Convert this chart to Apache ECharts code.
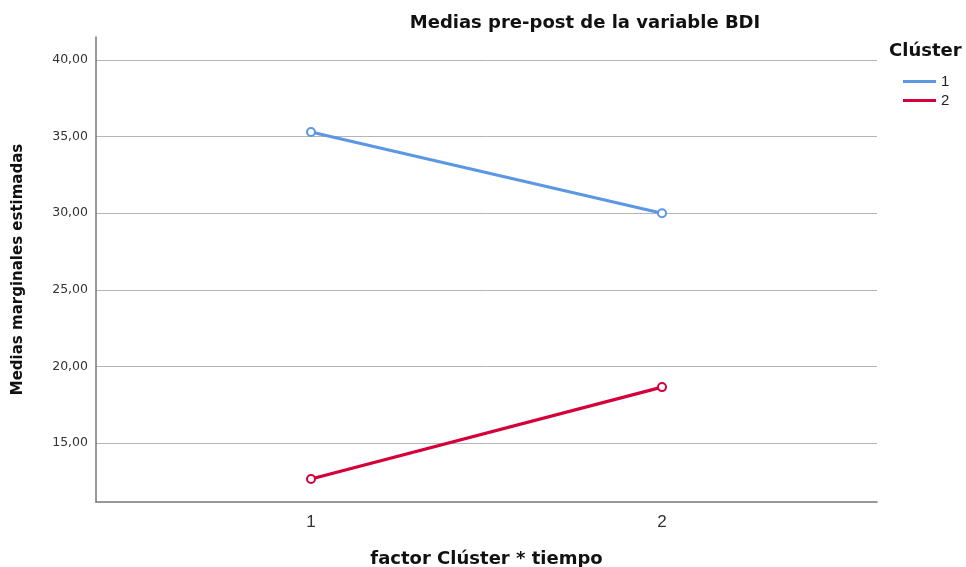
<!DOCTYPE html>
<html><head><meta charset="utf-8">
<script src="https://cdn.jsdelivr.net/npm/echarts@6/dist/echarts.min.js"></script>
<style>html,body{margin:0;padding:0;background:#fff}#c{width:966px;height:567px}</style>
</head><body><div id="c"></div>
<script>
const xCategories = [1, 2];
const cluster1 = [35.3, 30.0];
const cluster2 = [12.65, 18.65];
const yTicks = [15, 20, 25, 30, 35, 40];
const seriesNames = ['1', '2'];

const chart = echarts.init(document.getElementById('c'));
const pts = arr => xCategories.map((x, i) => [x, arr[i]]);
const fmt = v => v.toFixed(2).replace('.', ',');
const boldFont = '"DejaVu Sans", "Liberation Sans", Arial';
chart.setOption({
  animation: false,
  title: {
    text: 'Medias pre-post de la variable BDI',
    left: 580, top: 9, textAlign: 'center',
    textStyle: {fontFamily: boldFont, fontWeight: 'bold', fontSize: 18, color: '#111'}
  },
  legend: {
    left: 903, top: 74, orient: 'vertical', itemWidth: 33, itemHeight: 3, itemGap: 4,
    icon: 'rect', padding: 0,
    textStyle: {fontFamily: 'Liberation Sans, Arial', fontSize: 15, color: '#222'},
    data: seriesNames
  },
  graphic: [{
    type: 'text', left: 889, top: 42,
    style: {text: 'Clúster', font: 'bold 18px "DejaVu Sans", "Liberation Sans", Arial', fill: '#111'}
  }],
  grid: {left: 96, right: 89, top: 37, bottom: 65, outerBoundsMode: 'none', containLabel: false},
  xAxis: {
    type: 'value', min: 0.3875, max: 2.6125,
    name: 'factor Clúster * tiempo', nameLocation: 'middle', nameGap: 48,
    nameTextStyle: {fontFamily: boldFont, fontWeight: 'bold', fontSize: 18, color: '#111'},
    axisLine: {lineStyle: {color: '#777', width: 1.5}},
    axisTick: {show: false, customValues: xCategories},
    axisLabel: {customValues: xCategories, fontFamily: 'Liberation Sans, Arial', fontSize: 17, color: '#333', margin: 12},
    splitLine: {show: false}
  },
  yAxis: {
    type: 'value', min: 11.15, max: 41.5,
    name: 'Medias marginales estimadas', nameLocation: 'middle', nameGap: 70, nameRotate: 90,
    nameTextStyle: {fontFamily: boldFont, fontWeight: 'bold', fontSize: 15, color: '#111'},
    axisLine: {show: true, lineStyle: {color: '#777', width: 1.5}},
    axisTick: {show: false, customValues: yTicks},
    axisLabel: {customValues: yTicks, formatter: fmt, fontFamily: '"DejaVu Sans", Arial', fontSize: 12.5, color: '#333', margin: 8},
    splitLine: {show: true, lineStyle: {color: '#b5b5b5', width: 1}}
  },
  series: [
    {name: seriesNames[0], type: 'line', data: pts(cluster1), color: '#5b97e4',
     lineStyle: {width: 3.2}, symbol: 'emptyCircle', symbolSize: 8, itemStyle: {borderWidth: 1.2}},
    {name: seriesNames[1], type: 'line', data: pts(cluster2), color: '#d4003a',
     lineStyle: {width: 3.2}, symbol: 'emptyCircle', symbolSize: 8, itemStyle: {borderWidth: 1.2}}
  ]
});
</script></body></html>
